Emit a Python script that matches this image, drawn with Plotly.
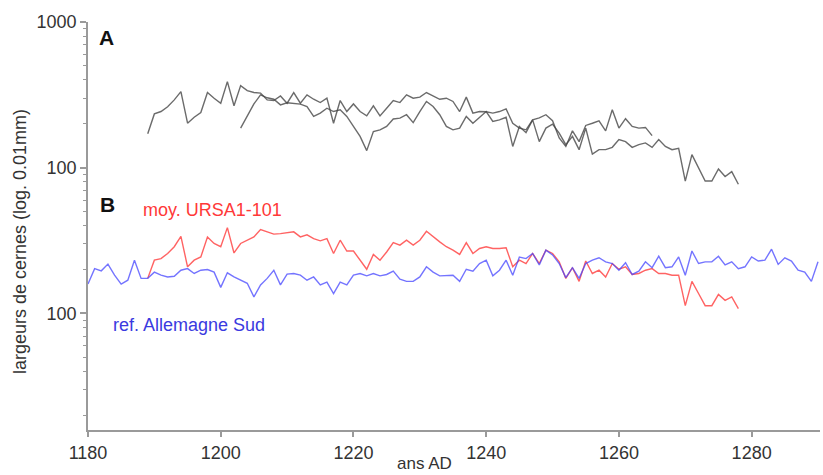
import plotly.graph_objects as go

# ---- data (ring widths, 0.01 mm) ----
a1_start = 1189
a1_values = [171, 234, 243, 262, 292, 333, 202, 222, 239, 328, 300, 277, 390, 266, 366, 338,
             328, 325, 292, 289, 311, 277, 328, 277, 316, 295, 280, 300, 202, 289, 243, 274,
             243, 227, 266, 227, 256, 289, 280, 316, 300, 305, 328, 311, 295, 300, 285, 243,
             305, 237, 243, 242, 237, 243, 253, 202, 187, 182, 213, 220, 231, 210, 160, 140,
             179, 151, 195, 202, 210, 179, 250, 187, 217, 192, 187, 189, 166]

a2_start = 1203
a2_values = [187, 227, 274, 316, 302, 295, 270, 279, 277, 273, 263, 225, 237, 256, 243, 250,
             225, 192, 164, 131, 177, 182, 192, 216, 219, 231, 204, 243, 285, 263, 231, 192,
             182, 187, 225, 202, 222, 243, 208, 213, 222, 140, 192, 174, 213, 151, 187, 199,
             173, 144, 164, 133, 187, 124, 133, 133, 138, 156, 151, 138, 144, 148, 138, 156,
             140, 133, 136, 81, 123, 99, 81, 81, 98, 87, 94, 77]

mean_start = 1189
mean_values = [174, 232, 238, 258, 287, 338, 209, 232, 244, 335, 302, 287, 388, 260, 302, 318,
               335, 376, 363, 350, 353, 357, 363, 335, 346, 326, 315, 326, 258, 318, 268, 268,
               232, 201, 254, 232, 264, 306, 294, 318, 294, 318, 366, 335, 310, 287, 272, 254,
               306, 258, 279, 287, 279, 279, 282, 209, 232, 220, 258, 220, 272, 258, 226, 174,
               206, 166, 229, 188, 198, 178, 220, 201, 209, 185, 188, 198, 203, 188, 188, 183,
               183, 113, 166, 137, 113, 113, 135, 123, 130, 108]

ref_start = 1180
ref_values = [159, 203, 196, 218, 183, 159, 169, 232, 174, 174, 192, 183, 178, 180, 198, 203,
              188, 198, 200, 192, 151, 190, 178, 169, 161, 130, 157, 174, 198, 157, 186, 188,
              183, 169, 178, 157, 164, 137, 164, 157, 183, 188, 181, 188, 181, 185, 195, 172,
              166, 166, 178, 209, 192, 181, 181, 183, 166, 201, 195, 220, 232, 181, 198, 232,
              183, 244, 238, 258, 215, 272, 252, 220, 176, 206, 174, 220, 232, 241, 226, 220,
              198, 223, 185, 195, 226, 206, 247, 206, 209, 244, 183, 268, 220, 226, 226, 247,
              215, 226, 203, 209, 244, 229, 232, 276, 217, 241, 229, 198, 192, 166, 226]

x_ticks = [1180, 1200, 1220, 1240, 1260, 1280]
y_tick_vals = [10, 100, 1000]
y_tick_text = ["100", "100", "1000"]
B_OFFSET = 10  # panel B is drawn one decade lower

def years(start, vals):
    return list(range(start, start + len(vals)))

fig = go.Figure()
gray = "rgba(70,70,70,0.8)"
fig.add_trace(go.Scatter(x=years(a1_start, a1_values), y=a1_values, mode="lines",
                         line=dict(color=gray, width=1.4)))
fig.add_trace(go.Scatter(x=years(a2_start, a2_values), y=a2_values, mode="lines",
                         line=dict(color=gray, width=1.4)))
fig.add_trace(go.Scatter(x=years(mean_start, mean_values), y=[v / B_OFFSET for v in mean_values],
                         mode="lines", line=dict(color="rgba(255,60,60,0.8)", width=1.4)))
fig.add_trace(go.Scatter(x=years(ref_start, ref_values), y=[v / B_OFFSET for v in ref_values],
                         mode="lines", line=dict(color="rgba(70,70,255,0.75)", width=1.4)))

minor_vals = [m * d for d in (1, 10, 100) for m in range(2, 10)]

font_family = "Liberation Sans, Arial, sans-serif"
axis_col = "#9a9a9a"

fig.update_layout(
    width=823, height=475,
    margin=dict(l=88, r=3, t=22, b=45, autoexpand=False),
    paper_bgcolor="white", plot_bgcolor="white",
    showlegend=False,
    font=dict(family=font_family, size=18, color="#333333"),
    xaxis=dict(range=[1180, 1290.3], tickvals=x_ticks, ticks="outside", ticklen=5,
               tickcolor=axis_col, tickwidth=1.5, showline=True, linecolor=axis_col,
               linewidth=1.8, showgrid=False, zeroline=False, automargin=False,
               tickfont=dict(size=18, color="#333333")),
    yaxis=dict(type="log", range=[0.2, 3.0], tickvals=y_tick_vals, ticktext=y_tick_text,
               ticks="outside", ticklen=6, tickcolor=axis_col, tickwidth=1.5,
               showline=True, linecolor=axis_col, linewidth=1.8, showgrid=False,
               zeroline=False, automargin=False, tickfont=dict(size=18, color="#333333"),
               minor=dict(tickmode="array", tickvals=minor_vals, ticks="outside",
                          ticklen=3, tickcolor=axis_col, tickwidth=1, showgrid=False)),
)

anns = [
    dict(text="<b>A</b>", x=0.012, y=0.963, xanchor="left", yanchor="middle",
         font=dict(size=21, color="#111111")),
    dict(text="<b>B</b>", x=0.014, y=0.552, xanchor="left", yanchor="middle",
         font=dict(size=21, color="#111111")),
    dict(text="moy. URSA1-101", x=0.073, y=0.540, xanchor="left", yanchor="middle",
         font=dict(size=18, color="#ff3838")),
    dict(text="ref. Allemagne Sud", x=0.032, y=0.257, xanchor="left", yanchor="middle",
         font=dict(size=18, color="#3a3ae0")),
    dict(text="largeurs de cernes (log. 0.01mm)", x=-0.093, y=0.463, textangle=-90,
         xanchor="center", yanchor="middle", font=dict(size=18, color="#333333")),
    dict(text="ans AD", x=0.46, y=-0.083, xanchor="center", yanchor="middle",
         font=dict(size=17, color="#333333")),
]
for a in anns:
    a.update(xref="paper", yref="paper", showarrow=False)
    fig.add_annotation(**a)

fig.write_html("out.html", config={"displayModeBar": False},
               post_script="document.body.style.margin='0';document.body.style.overflow='hidden';")
